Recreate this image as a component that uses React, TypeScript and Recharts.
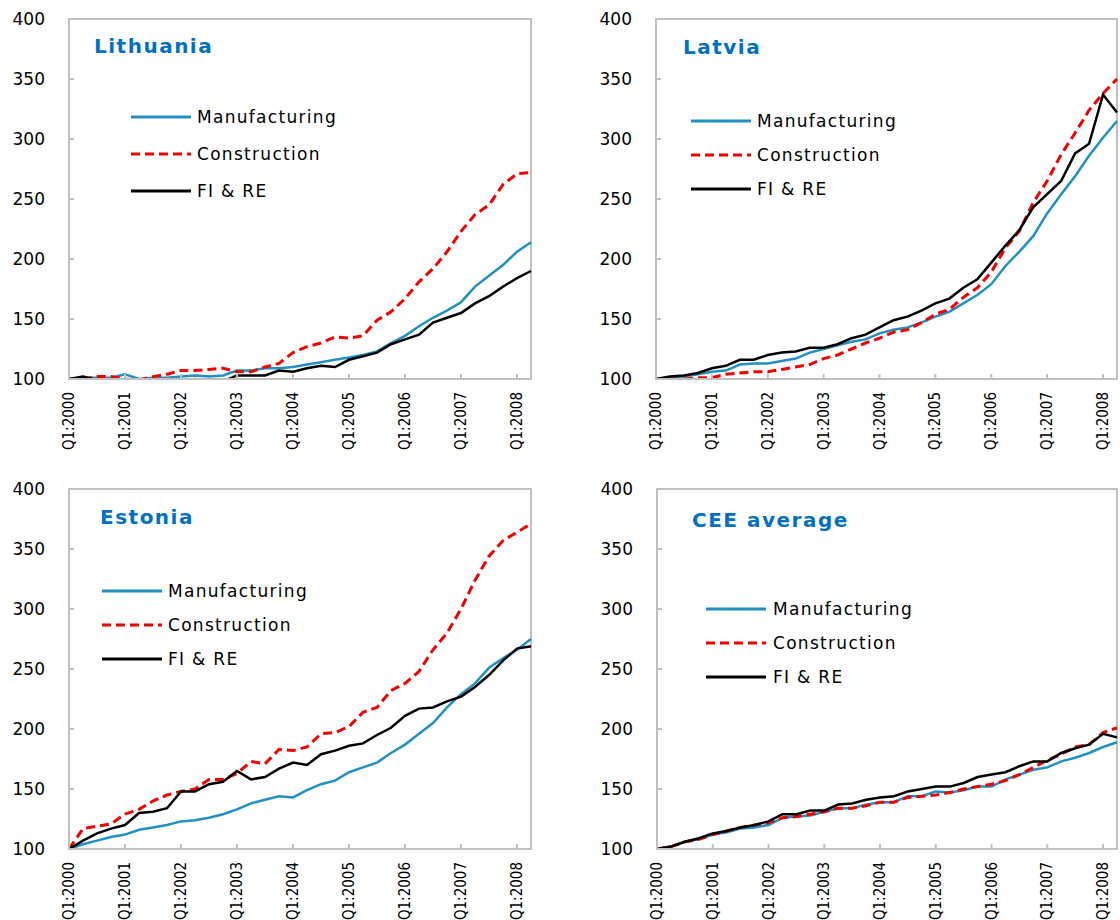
import React from 'react';
import { LineChart, Line, XAxis, YAxis, ReferenceArea } from 'recharts';

// quarterly index, Q1:2000 = 100
const quarters = [
  'Q1:2000', 'Q2:2000', 'Q3:2000', 'Q4:2000',
  'Q1:2001', 'Q2:2001', 'Q3:2001', 'Q4:2001',
  'Q1:2002', 'Q2:2002', 'Q3:2002', 'Q4:2002',
  'Q1:2003', 'Q2:2003', 'Q3:2003', 'Q4:2003',
  'Q1:2004', 'Q2:2004', 'Q3:2004', 'Q4:2004',
  'Q1:2005', 'Q2:2005', 'Q3:2005', 'Q4:2005',
  'Q1:2006', 'Q2:2006', 'Q3:2006', 'Q4:2006',
  'Q1:2007', 'Q2:2007', 'Q3:2007', 'Q4:2007',
  'Q1:2008', 'Q2:2008',
];
const yTicks = [100, 150, 200, 250, 300, 350, 400];

const ltMfg = [100, 101, 101, 101, 104, 100, 101, 101, 102, 103, 102, 103, 107, 107, 109, 109, 110, 112, 114, 116, 118, 120, 123, 130, 136, 144, 151, 157, 164, 177, 186, 195, 206, 214];
const ltCon = [100, 100, 102, 102, 100, 99, 102, 104, 107, 107, 108, 109, 106, 106, 110, 113, 122, 127, 130, 135, 134, 136, 149, 156, 167, 181, 192, 206, 223, 237, 245, 262, 271, 272];
const ltFire = [100, 102, 99, 98, 97, 96, 96, 97, 98, 100, 99, 98, 103, 103, 103, 107, 106, 109, 111, 110, 116, 119, 122, 129, 133, 137, 147, 151, 155, 163, 169, 177, 184, 190];

const lvMfg = [100, 101, 102, 104, 106, 107, 112, 113, 113, 115, 117, 122, 125, 128, 131, 133, 138, 141, 143, 147, 152, 156, 163, 170, 179, 194, 206, 219, 238, 254, 269, 286, 301, 315];
const lvCon = [100, 100, 100, 101, 101, 104, 105, 106, 106, 108, 110, 112, 117, 120, 125, 130, 134, 139, 141, 147, 154, 158, 168, 176, 189, 209, 223, 247, 265, 287, 305, 324, 338, 350];
const lvFire = [100, 102, 103, 105, 109, 111, 116, 116, 120, 122, 123, 126, 126, 129, 134, 137, 143, 149, 152, 157, 163, 167, 176, 183, 197, 211, 224, 243, 254, 265, 288, 296, 337, 322];

const eeMfg = [100, 104, 107, 110, 112, 116, 118, 120, 123, 124, 126, 129, 133, 138, 141, 144, 143, 149, 154, 157, 164, 168, 172, 180, 187, 196, 205, 218, 229, 238, 251, 259, 266, 275];
const eeCon = [100, 117, 119, 121, 129, 133, 140, 145, 148, 150, 158, 158, 163, 173, 171, 183, 182, 185, 196, 197, 202, 214, 218, 232, 238, 248, 266, 280, 300, 324, 344, 357, 364, 371];
const eeFire = [100, 107, 113, 117, 120, 130, 131, 134, 148, 148, 154, 156, 165, 158, 160, 167, 172, 170, 179, 182, 186, 188, 195, 201, 211, 217, 218, 223, 227, 235, 245, 257, 267, 269];

const ceeMfg = [100, 102, 106, 108, 112, 114, 117, 118, 120, 126, 127, 128, 131, 134, 134, 137, 139, 139, 144, 144, 148, 147, 149, 152, 152, 158, 162, 166, 168, 173, 176, 180, 185, 189];
const ceeCon = [100, 102, 106, 108, 112, 115, 118, 120, 122, 126, 127, 129, 131, 134, 134, 136, 139, 139, 143, 144, 145, 147, 150, 152, 154, 157, 162, 168, 174, 179, 185, 187, 197, 201];
const ceeFire = [100, 102, 106, 109, 113, 115, 118, 120, 123, 129, 129, 132, 132, 137, 138, 141, 143, 144, 148, 150, 152, 152, 155, 160, 162, 164, 169, 173, 173, 180, 184, 187, 196, 193];

const SERIES = [
  { key: 'mfg', name: 'Manufacturing', color: '#2290C0', width: 2.5, dash: undefined },
  { key: 'con', name: 'Construction', color: '#F00000', width: 3, dash: '9 5' },
  { key: 'fire', name: 'FI & RE', color: '#000000', width: 2.5, dash: undefined },
];

const FONT = '"DejaVu Sans", Verdana, sans-serif';
const NARROW = '"DejaVu Sans Condensed", "Liberation Sans Narrow", "DejaVu Sans", sans-serif';
const BORDER = '#C0C0C0';

const XTick = ({ x, y, payload }: any) => (
  <text
    x={x}
    y={y}
    transform={`rotate(-90, ${x}, ${y})`}
    textAnchor="end"
    dominantBaseline="central"
    fontSize={15}
    fontFamily={NARROW}
    fill="#000"
  >
    {payload.value}
  </text>
);

const PANELS = [
  {
    title: 'Lithuania', mfg: ltMfg, con: ltCon, fire: ltFire,
    left: 0, top: 0, plotTop: 19, yAxisW: 69, right: 29, xAxisH: 81,
    titleX: 94, titleY: 46, lineX: 131, textX: 197, legendY: [117, 154, 191],
  },
  {
    title: 'Latvia', mfg: lvMfg, con: lvCon, fire: lvFire,
    left: 560, top: 0, plotTop: 19, yAxisW: 96, right: 3, xAxisH: 81,
    titleX: 123, titleY: 47, lineX: 131, textX: 197, legendY: [121, 155, 189],
  },
  {
    title: 'Estonia', mfg: eeMfg, con: eeCon, fire: eeFire,
    left: 0, top: 460, plotTop: 29, yAxisW: 69, right: 29, xAxisH: 71,
    titleX: 100, titleY: 57, lineX: 102, textX: 168, legendY: [131, 165, 199],
  },
  {
    title: 'CEE average', mfg: ceeMfg, con: ceeCon, fire: ceeFire,
    left: 560, top: 460, plotTop: 29, yAxisW: 97, right: 3, xAxisH: 71,
    titleX: 132, titleY: 60, lineX: 146, textX: 213, legendY: [149, 183, 217],
  },
];

const Panel = ({ p }: any) => {
  const rows = quarters.map((q, i) => ({ q, mfg: p.mfg[i], con: p.con[i], fire: p.fire[i] }));
  return (
    <div style={{ position: 'absolute', left: p.left, top: p.top, width: 560, height: 460 }}>
      <LineChart
        width={560}
        height={460}
        data={rows}
        margin={{ top: p.plotTop, right: p.right, left: 0, bottom: 0 }}
      >
        <ReferenceArea
          x1={quarters[0]}
          x2={quarters[quarters.length - 1]}
          y1={100}
          y2={400}
          fill="none"
          stroke={BORDER}
          strokeWidth={2}
          ifOverflow="visible"
        />
        <XAxis
          dataKey="q"
          interval={3}
          height={p.xAxisH}
          tickSize={-5}
          tickMargin={18}
          tick={<XTick />}
          axisLine={{ stroke: BORDER, strokeWidth: 2 }}
          tickLine={{ stroke: BORDER, strokeWidth: 2 }}
        />
        <YAxis
          width={p.yAxisW}
          domain={[100, 400]}
          ticks={yTicks}
          interval={0}
          allowDataOverflow
          tickSize={-5}
          tickMargin={29}
          tick={{ fontSize: 17, fill: '#000', fontFamily: FONT }}
          axisLine={{ stroke: BORDER, strokeWidth: 2 }}
          tickLine={{ stroke: BORDER, strokeWidth: 2 }}
        />
        {SERIES.map((s) => (
          <Line
            key={s.key}
            type="linear"
            dataKey={s.key}
            name={s.name}
            stroke={s.color}
            strokeWidth={s.width}
            strokeDasharray={s.dash}
            dot={false}
            activeDot={false}
            isAnimationActive={false}
          />
        ))}
      </LineChart>
      <svg
        width={560}
        height={460}
        style={{ position: 'absolute', left: 0, top: 0, pointerEvents: 'none' }}
      >
        <text
          x={p.titleX}
          y={p.titleY}
          dominantBaseline="central"
          fontFamily={FONT}
          fontWeight="bold"
          fontSize={20}
          letterSpacing={1.5}
          fill="#0070C0"
        >
          {p.title}
        </text>
        {SERIES.map((s, i) => (
          <g key={s.key}>
            <line
              x1={p.lineX}
              x2={p.lineX + 60}
              y1={p.legendY[i]}
              y2={p.legendY[i]}
              stroke={s.color}
              strokeWidth={3}
              strokeDasharray={s.dash}
            />
            <text
              x={p.textX}
              y={p.legendY[i]}
              dominantBaseline="central"
              fontFamily={FONT}
              fontSize={17}
              letterSpacing={1.3}
              fill="#000"
            >
              {s.name}
            </text>
          </g>
        ))}
      </svg>
    </div>
  );
};

export default function App() {
  return (
    <div style={{ position: 'absolute', left: 0, top: 0, width: 1120, height: 920, background: '#fff', overflow: 'hidden' }}>
      {PANELS.map((p) => (
        <Panel key={p.title} p={p} />
      ))}
    </div>
  );
}
